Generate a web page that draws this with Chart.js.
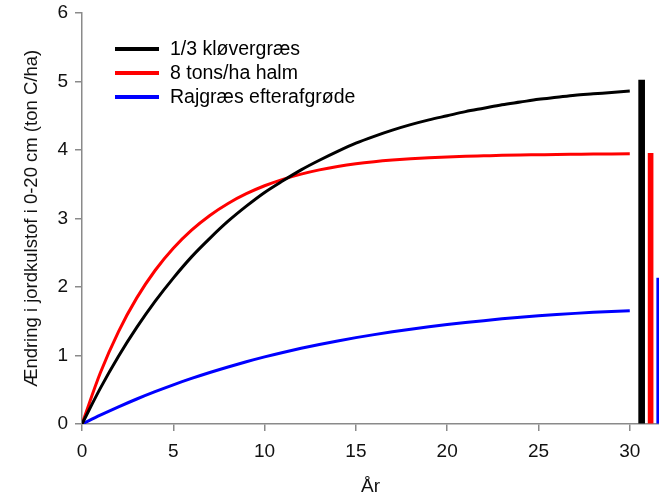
<!DOCTYPE html>
<html>
<head>
<meta charset="utf-8">
<script src="https://cdn.jsdelivr.net/npm/chart.js@4"></script>
<style>
  body { margin: 0; background: #fff; }
  #wrap { width: 659px; height: 499px; }
</style>
</head>
<body>
<div id="wrap"><canvas id="chart" width="659" height="499"></canvas></div>
<script>
// Data
const years = [0, 1, 2, 3, 4, 5, 6, 7, 8, 9, 10, 11, 12, 13, 14, 15, 16, 17, 18, 19, 20, 21, 22, 23, 24, 25, 26, 27, 28, 29, 30];
const kloevergraes = [0, 0.52, 0.99, 1.41, 1.79, 2.13, 2.44, 2.71, 2.96, 3.18, 3.38, 3.55, 3.71, 3.85, 3.98, 4.1, 4.2, 4.29, 4.37, 4.44, 4.5, 4.56, 4.61, 4.66, 4.7, 4.74, 4.77, 4.8, 4.82, 4.84, 4.86];
const halm = [0, 0.744, 1.349, 1.841, 2.241, 2.566, 2.83, 3.045, 3.22, 3.362, 3.478, 3.572, 3.648, 3.71, 3.76, 3.8, 3.83, 3.853, 3.871, 3.886, 3.898, 3.908, 3.915, 3.922, 3.927, 3.931, 3.935, 3.938, 3.941, 3.943, 3.945];
const efterafgroede = [0, 0.128, 0.25, 0.365, 0.472, 0.572, 0.665, 0.752, 0.833, 0.909, 0.98, 1.045, 1.105, 1.161, 1.213, 1.261, 1.305, 1.346, 1.384, 1.419, 1.451, 1.481, 1.509, 1.535, 1.558, 1.579, 1.598, 1.615, 1.63, 1.643, 1.655];

const seriesLabels = ["1/3 kløvergræs", "8 tons/ha halm", "Rajgræs efterafgrøde"];
const seriesColors = ["#000000", "#ff0000", "#0000ff"];

// Equilibrium bars at the right edge
const barX = [30.65, 31.14, 31.53];
const barValues = [5.02, 3.95, 2.13];
const barWidths = [6, 5, 2];

const yTicks = [0, 1, 2, 3, 4, 5, 6];
const xTicks = [0, 5, 10, 15, 20, 25, 30];

const axisGrey = "#8a8a8a";
const font = "'Liberation Sans', Arial, sans-serif";

const toPoints = (vals) => years.map((x, i) => ({ x: x, y: vals[i] }));

const lineSets = [kloevergraes, halm, efterafgroede].map((vals, i) => ({
  type: "line",
  label: seriesLabels[i],
  data: toPoints(vals),
  borderColor: seriesColors[i],
  borderWidth: 3,
  pointRadius: 0,
  cubicInterpolationMode: "monotone",
  fill: false,
  order: 1,
}));

const barSets = barX.map((x, i) => ({
  type: "bar",
  label: "bar" + i,
  data: [{ x: x, y: barValues[i] }],
  backgroundColor: seriesColors[i],
  barThickness: barWidths[i],
  grouped: false,
  order: 2,
}));

// Legend drawn inside the plot, top-left
const insideLegend = {
  id: "insideLegend",
  afterDraw(chart) {
    const ctx = chart.ctx;
    const rows = [49, 73, 97];
    ctx.save();
    ctx.font = "19.5px " + font;
    ctx.textBaseline = "middle";
    seriesLabels.forEach((label, i) => {
      ctx.strokeStyle = seriesColors[i];
      ctx.lineWidth = 4;
      ctx.beginPath();
      ctx.moveTo(115, rows[i]);
      ctx.lineTo(159, rows[i]);
      ctx.stroke();
      ctx.fillStyle = "#000";
      ctx.fillText(label, 170, rows[i] + 1);
    });
    ctx.restore();
  },
};

const ctx = document.getElementById("chart").getContext("2d");
new Chart(ctx, {
  data: { datasets: [...lineSets, ...barSets] },
  options: {
    responsive: false,
    animation: false,
    layout: { padding: { top: 13, right: 0, left: 0, bottom: 0 } },
    plugins: { legend: { display: false }, tooltip: { enabled: false } },
    scales: {
      x: {
        type: "linear",
        min: 0,
        max: 31.6,
        offset: false,
        afterFit: (scale) => {
          scale.height = 75;
          scale.paddingLeft = 0;
          scale.paddingRight = 0;
        },
        afterBuildTicks: (scale) => { scale.ticks = xTicks.map((v) => ({ value: v })); },
        ticks: { font: { size: 19, family: font }, color: "#111", padding: 9, maxRotation: 0 },
        grid: { offset: false, drawOnChartArea: false, tickLength: 7, color: axisGrey, lineWidth: 1.5 },
        border: { color: axisGrey, width: 1.5 },
        title: { display: true, text: "År", font: { size: 19, family: font }, color: "#111", padding: { bottom: 1 } },
      },
      y: {
        min: 0,
        max: 6,
        afterFit: (scale) => {
          scale.width = 82;
          scale.paddingTop = 0;
          scale.paddingBottom = 0;
        },
        afterBuildTicks: (scale) => { scale.ticks = yTicks.map((v) => ({ value: v })); },
        ticks: { font: { size: 19, family: font }, color: "#111", padding: 7 },
        grid: { drawOnChartArea: false, tickLength: 7, color: axisGrey, lineWidth: 1.5 },
        border: { color: axisGrey, width: 1.5 },
        title: { display: true, text: "Ændring i jordkulstof i 0-20 cm (ton C/ha)", font: { size: 18.5, family: font }, color: "#111", padding: { top: 21 } },
      },
    },
  },
  plugins: [insideLegend],
});
</script>
</body>
</html>
